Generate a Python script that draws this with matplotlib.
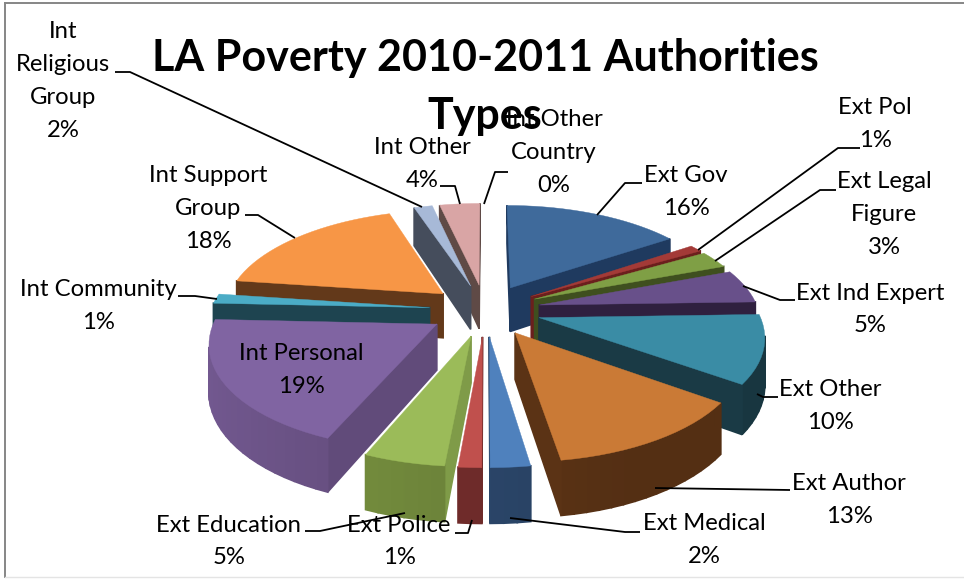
import numpy as np
import matplotlib
matplotlib.use('Agg')
import matplotlib.pyplot as plt
from matplotlib.colors import to_rgb
from matplotlib.patches import Polygon

plt.rcParams['font.family'] = ['Lato', 'DejaVu Sans']

# shares, they round to the printed labels
names = ['Ext Gov', 'Ext Pol', 'Ext Legal\nFigure', 'Ext Ind Expert', 'Ext Other',
         'Ext Author', 'Ext Medical', 'Ext Police', 'Ext Education', 'Int Personal',
         'Int Community', 'Int Support\nGroup', 'Int\nReligious\nGroup', 'Int Other',
         'Int Other\nCountry']
values = [15.5, 1.1, 2.7, 5.2, 10.45, 12.65, 2.4, 1.4, 4.9, 19.4, 1.49, 17.7, 1.6, 3.5, 0]
percents = [16, 1, 3, 5, 10, 13, 2, 1, 5, 19, 1, 18, 2, 4, 0]

top_colors = ['#3f6a9b', '#a33a37', '#7f9f45', '#68508a', '#3a8ca5', '#ca7a36', '#4f81bd',
              '#c0504d', '#9bbb59', '#8064a2', '#4bacc6', '#f79646', '#a7b9d7', '#d9a5a5', '#d9a5a5']
wall_colors = ['#1f3a5f', '#6b1f1d', '#3f4f1f', '#2f203f', '#1a3a45', '#5b3315', '#2a4568',
               '#6e2b2a', '#6b8239', '#614b7a', '#1e4450', '#63391a', '#454d5c', '#5f4a46', '#5f4a46']
inner_colors = list(wall_colors)
inner_colors[8] = '#7f9b48'

# label centre x and first line y, in pixels
label_pos = [(686, 176), (875, 108), (884, 182), (870, 293), (830, 390), (849, 484), (704, 524),
             (399, 525), (229, 525), (301, 354), (98, 290), (208, 176), (63, 32), (422, 148),
             (554, 120)]
leaders = [
    [(597, 215), (625, 183), (642, 183)],
    [(698, 250), (838, 148), (860, 148)],
    [(715, 261), (820, 190), (836, 190)],
    [(743, 286), (780, 300), (795, 300)],
    [(757, 394), (763, 397), (778, 397)],
    [(655, 488), (790, 490)],
    [(510, 518), (625, 532), (640, 532)],
    [(472, 520), (468, 533), (455, 533)],
    [(405, 513), (320, 531), (305, 531)],
    [],
    [(217, 299), (195, 296), (178, 296)],
    [(295, 238), (258, 215), (245, 215)],
    [(422, 207), (130, 72), (115, 72)],
    [(460, 204), (455, 186), (440, 186)],
    [(484, 204), (495, 172), (508, 172)],
]

# projection of the tilted pie
cx, cy = 485, 310
rx, ry = 219, 101.4
persp = 0.154
explode = 0.255
depth = 45
line_h = 32.8


def project(u, v):
    s = 1 / (1 + persp * v)
    return cx + rx * u * s, cy - ry * v * s, depth * s


def shade(color, f):
    return tuple(min(1, c * f) for c in to_rgb(color))


def draw_slice(ax, a0, a1, top, wall, inner):
    mid = (a0 + a1) / 2
    ou, ov = explode * np.sin(mid), explode * np.cos(mid)
    angles = np.linspace(a0, a1, max(3, int(np.degrees(a1 - a0) / 3) + 2))
    u = np.r_[ou, ou + np.sin(angles)]
    v = np.r_[ov, ov + np.cos(angles)]
    x, y, d = project(u, v)
    n = len(x)
    for i in range(n):
        j = (i + 1) % n
        # going clockwise on screen, edges facing us run right to left
        if x[j] >= x[i]:
            continue
        if i == 0 or j == 0:
            col = inner
        else:
            f = 1.0 + 0.18 * np.clip(np.sin(angles[i - 1] - np.pi), -0.4, 1)
            col = shade(wall, f)
        ax.add_patch(Polygon([(x[i], y[i]), (x[j], y[j]), (x[j], y[j] + d[j]), (x[i], y[i] + d[i])],
                             closed=True, fc=col, ec=col, lw=1.2, zorder=2))
    ax.add_patch(Polygon(np.c_[x, y], closed=True, fc=top, ec=top, lw=0.3, zorder=2))


fig = plt.figure(figsize=(9.64, 5.79), dpi=100)
ax = fig.add_axes([0, 0, 1, 1])
ax.set_xlim(0, 964)
ax.set_ylim(579, 0)
ax.axis('off')

# chart frame
ax.plot([5, 5], [3, 577], color='#868686', lw=1.4)
ax.plot([5, 964], [3, 3], color='#868686', lw=1.4)
ax.plot([5, 964], [577, 577], color='#e4e4e4', lw=1.0)

edges = np.r_[0, np.cumsum(values)] / np.sum(values) * 2 * np.pi
mids = (edges[:-1] + edges[1:]) / 2
for i in np.argsort(-np.cos(mids)):
    if values[i] > 0:
        draw_slice(ax, edges[i], edges[i + 1], top_colors[i], wall_colors[i], inner_colors[i])

for i, name in enumerate(names):
    if leaders[i]:
        pts = np.array(leaders[i])
        ax.plot(pts[:, 0], pts[:, 1], color='black', lw=1.3, zorder=3, solid_capstyle='butt')
    lines = name.split('\n') + ['%d%%' % percents[i]]
    for k, line in enumerate(lines):
        ax.text(label_pos[i][0], label_pos[i][1] + k * line_h, line, fontsize=17.2,
                ha='center', va='center', color='black', zorder=4)

ax.text(485, 58, 'LA Poverty 2010-2011 Authorities', fontsize=31, fontweight='bold',
        ha='center', va='center', zorder=5)
ax.text(485, 116, 'Types', fontsize=31, fontweight='bold', ha='center', va='center', zorder=5)

fig.savefig('out.png', dpi=100)
